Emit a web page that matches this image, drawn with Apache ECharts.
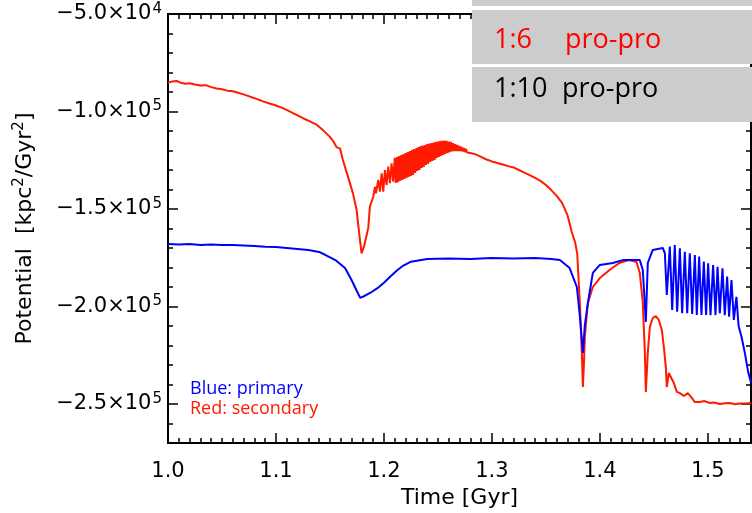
<!DOCTYPE html>
<html>
<head>
<meta charset="utf-8">
<script src="https://cdn.jsdelivr.net/npm/echarts@6/dist/echarts.min.js"></script>
<style>
  html, body { margin: 0; padding: 0; background: #fff; }
  #chart { width: 752px; height: 513px; }
</style>
</head>
<body>
<div id="chart"></div>
<script>
// Time in Gyr and potential in kpc^2/Gyr^2 for the two galaxy centres.
const blueTime = [
  1.000, 1.010, 1.020, 1.030, 1.040, 1.050, 1.060, 1.070, 1.080, 1.090,
  1.100, 1.110, 1.120, 1.130, 1.140, 1.146, 1.155, 1.164, 1.170, 1.174,
  1.178, 1.182, 1.188, 1.194, 1.200, 1.206, 1.212, 1.218, 1.225, 1.240, 1.260, 1.280, 1.300,
  1.320, 1.340, 1.355, 1.363, 1.372, 1.3787, 1.3815, 1.3843, 1.386, 1.3889,
  1.3935, 1.400, 1.412, 1.4213, 1.437, 1.4398, 1.4426, 1.4444, 1.449, 1.4583,
  1.4602, 1.462, 1.4648, 1.4670, 1.4694, 1.4716, 1.4741, 1.4762, 1.4787, 1.4809,
  1.4833, 1.4855, 1.4880, 1.4898, 1.4920, 1.4941, 1.4963, 1.4984, 1.5003, 1.5025,
  1.5049, 1.5071, 1.5090, 1.5111, 1.5136, 1.5157, 1.5179, 1.5197, 1.5219, 1.5241,
  1.5265, 1.5285, 1.5312, 1.5343, 1.5373, 1.540
];
const blueValues = [
  -168000, -168200, -168000, -168500, -168200, -168500, -168500, -168700, -169000, -169300,
  -169500, -170000, -170500, -171000, -172000, -173600, -176200, -180300, -186400, -191000,
  -195600, -194600, -192800, -190600, -187800, -184600, -181500, -179000, -177000, -175600, -175400, -175600, -175100,
  -175400, -175100, -175600, -176200, -180300, -190000, -205000, -223800, -210000, -198200,
  -182800, -178700, -177700, -176200, -176200, -181300, -207900, -177700, -171000, -170000,
  -172600, -194100, -169300, -201800, -168500, -202700, -170200, -203500, -171900, -203500,
  -172700, -203800, -173600, -204400, -174400, -204400, -177000, -204400, -177800, -204400,
  -178700, -204400, -179600, -203500, -180400, -204400, -184700, -205200, -186400, -206900,
  -195000, -210000, -215500, -223800, -233400, -239000
];

const redTime = [
  1.000, 1.004, 1.008, 1.012, 1.016, 1.020, 1.025, 1.030, 1.035, 1.040,
  1.045, 1.050, 1.055, 1.060, 1.065, 1.070, 1.076, 1.082, 1.088, 1.094,
  1.100, 1.107, 1.114, 1.120, 1.126, 1.132, 1.138, 1.144, 1.150, 1.1535,
  1.1562, 1.1593, 1.1620, 1.1667, 1.1713, 1.1747, 1.1771,
  1.1793, 1.1815, 1.1840, 1.1855, 1.1870, 1.1901, 1.1917, 1.1926, 1.1947, 1.1963,
  1.1979, 1.1994, 1.2009, 1.2025, 1.2040, 1.2056, 1.2071, 1.2086,
  1.210, 1.211, 1.212, 1.213, 1.214, 1.215, 1.216, 1.217, 1.218, 1.219,
  1.220, 1.221, 1.222, 1.223, 1.224, 1.225, 1.226, 1.227, 1.228, 1.229,
  1.230, 1.231, 1.232, 1.233, 1.234, 1.235, 1.236, 1.237, 1.238, 1.239,
  1.240, 1.241, 1.242, 1.243, 1.244, 1.245, 1.246, 1.247, 1.248, 1.249,
  1.250, 1.251, 1.252, 1.253, 1.254, 1.255, 1.256, 1.257, 1.258, 1.259,
  1.260, 1.261, 1.262, 1.263, 1.264, 1.265, 1.266, 1.267, 1.268, 1.269,
  1.270, 1.271, 1.272, 1.273, 1.274, 1.275, 1.276, 1.277,
  1.280, 1.285, 1.290, 1.295, 1.300, 1.305, 1.310, 1.315, 1.320, 1.325,
  1.330, 1.335, 1.340, 1.345, 1.350, 1.355, 1.360, 1.365, 1.370, 1.374,
  1.377, 1.379, 1.3815, 1.3833, 1.3843, 1.3852, 1.3861, 1.3889, 1.3935, 1.400,
  1.409, 1.418, 1.427, 1.434, 1.437, 1.4398, 1.4417, 1.4426, 1.4444, 1.4463,
  1.449, 1.4518, 1.4546, 1.4574, 1.4593, 1.4611, 1.462, 1.4639, 1.4657, 1.4685,
  1.4713, 1.4741, 1.4778, 1.4815, 1.4852, 1.488, 1.4926, 1.497, 1.5019, 1.506,
  1.5111, 1.516, 1.5204, 1.525, 1.5296, 1.535, 1.540
];
const redValues = [
  -85200, -84600, -84300, -85300, -85800, -85500, -86200, -86700, -86500, -87500,
  -88200, -88600, -89300, -89600, -90400, -91200, -92400, -93500, -94800, -95900,
  -96900, -98400, -100300, -102000, -103700, -105200, -106900, -109800, -113000, -115600,
  -118400, -118900, -124900, -133400, -142000, -150500, -162500,
  -172700, -169300, -163300, -159700, -148800, -143700, -138600, -142000, -135100, -141100,
  -131700, -141100, -130000, -137700, -128300, -136800, -126600, -136000,
  -123800, -136700, -123300, -136200, -122800, -135600, -122300, -135100, -121800, -134600,
  -121300, -134100, -120800, -133600, -120300, -133100, -119700, -132600, -119200, -131500,
  -118700, -130500, -118200, -130000, -117700, -129000, -117400, -128500, -117200, -127400,
  -116700, -126900, -116400, -125900, -116200, -125400, -115900, -124900, -115600, -123800,
  -115400, -123300, -115100, -122800, -115100, -122300, -114900, -121800, -115100, -121300,
  -115400, -120800, -115600, -120500, -116200, -120300, -116700, -120300, -117200, -120300,
  -117700, -120300, -118200, -120500, -118700, -120800, -119200, -121000,
  -121300, -122000, -123300, -124600, -125600, -126400, -127200, -128000, -128700, -130000,
  -131300, -132600, -134100, -135600, -137700, -140300, -143300, -146900, -153100, -161800,
  -166900, -172600, -198200, -223800, -241300, -230000, -215600, -198200, -190000, -185400,
  -181300, -177700, -176200, -177200, -182800, -198200, -223800, -243800, -223800, -210500,
  -205900, -204900, -206900, -212100, -220800, -231000, -241300, -234100, -234100, -239200,
  -243800, -244400, -245900, -244400, -246900, -249000, -249000, -248500, -249500, -249200,
  -250000, -249600, -249500, -250100, -249700, -249800, -249500
];

// Labelled tick positions on each axis.
const xTickValues = [1.0, 1.1, 1.2, 1.3, 1.4, 1.5];
const yTickValues = [-250000, -200000, -150000, -100000, -50000];

const X_MIN = 1.0, X_MAX = 1.54;
const Y_MIN = -270000, Y_MAX = -50000;
const FONT = 'DejaVu Sans';
const RED = '#ff1a00';
const BLUE = '#0000ff';

function pairs(xs, ys) {
  return xs.map((x, i) => [x, ys[i]]);
}

function sciLabel(v) {
  const e = Math.floor(Math.log10(Math.abs(v)) + 1e-9);
  const m = (v / Math.pow(10, e)).toFixed(1).replace('-', '\u2212');
  return '{m|' + m + '\u00d710}{s|' + e + '}';
}

const lineStyle = { color: '#000', width: 2 };
const tickStyle = { color: '#000', width: 1.5 };

function xAxisPair(position, withLabels) {
  const minor = {
    type: 'value', position: position, min: X_MIN, max: X_MAX, interval: 0.01,
    axisLine: { show: true, onZero: false, lineStyle: lineStyle },
    axisTick: { show: true, inside: true, length: 5, lineStyle: tickStyle },
    axisLabel: withLabels ? {
      show: true, customValues: xTickValues, margin: 18,
      formatter: v => v.toFixed(1),
      color: '#000', fontFamily: FONT, fontSize: 21
    } : { show: false },
    splitLine: { show: false }
  };
  if (withLabels) {
    minor.name = 'Time [Gyr]';
    minor.nameLocation = 'middle';
    minor.nameGap = 43;
    minor.nameTextStyle = { color: '#000', fontFamily: FONT, fontSize: 22 };
  }
  const major = {
    type: 'value', position: position, min: X_MIN, max: X_MAX,
    axisLine: { show: false, onZero: false },
    axisTick: { show: true, inside: true, length: 10, customValues: xTickValues, lineStyle: tickStyle },
    axisLabel: { show: false },
    splitLine: { show: false }
  };
  return [minor, major];
}

function yAxisPair(position, withLabels) {
  const minor = {
    type: 'value', position: position, min: Y_MIN, max: Y_MAX, interval: 10000,
    axisLine: { show: true, onZero: false, lineStyle: lineStyle },
    axisTick: { show: true, inside: true, length: 5, lineStyle: tickStyle },
    axisLabel: withLabels ? {
      show: true, customValues: yTickValues, margin: 6,
      formatter: sciLabel,
      rich: {
        m: { fontFamily: FONT, fontSize: 21, color: '#000' },
        s: { fontFamily: FONT, fontSize: 15, color: '#000', verticalAlign: 'top', padding: [0, 0, 10, 1] }
      }
    } : { show: false },
    splitLine: { show: false }
  };
  if (withLabels) {
    minor.name = '{t|Potential  [kpc}{s|2}{t|/Gyr}{s|2}{t|]}';
    minor.nameLocation = 'middle';
    minor.nameRotate = 90;
    minor.nameGap = 130;
    minor.nameTextStyle = {
      rich: {
        t: { fontFamily: FONT, fontSize: 22, color: '#000' },
        s: { fontFamily: FONT, fontSize: 15, color: '#000', padding: [0, 0, 11, 0] }
      }
    };
  }
  const major = {
    type: 'value', position: position, min: Y_MIN, max: Y_MAX,
    axisLine: { show: false, onZero: false },
    axisTick: { show: true, inside: true, length: 10, customValues: yTickValues, lineStyle: tickStyle },
    axisLabel: { show: false },
    splitLine: { show: false }
  };
  return [minor, major];
}

const chart = echarts.init(document.getElementById('chart'), null, { renderer: 'canvas' });

const boxColor = '#cccccc';
const option = {
  animation: false,
  backgroundColor: '#ffffff',
  grid: { left: 168, top: 14, width: 583, height: 429, containLabel: false, outerBoundsMode: 'none' },
  xAxis: [].concat(xAxisPair('bottom', true), xAxisPair('top', false)),
  yAxis: [].concat(yAxisPair('left', true), yAxisPair('right', false)),
  series: [
    {
      name: 'secondary', type: 'line', xAxisIndex: 0, yAxisIndex: 0,
      data: pairs(redTime, redValues), showSymbol: false, symbol: 'none',
      sampling: 'none', clip: true,
      lineStyle: { color: RED, width: 2 }
    },
    {
      name: 'primary', type: 'line', xAxisIndex: 0, yAxisIndex: 0,
      data: pairs(blueTime, blueValues), showSymbol: false, symbol: 'none',
      sampling: 'none', clip: true,
      lineStyle: { color: BLUE, width: 2 }
    }
  ],
  graphic: [
    { type: 'rect', z: 100, shape: { x: 472, y: 0, width: 280, height: 6 }, style: { fill: boxColor } },
    { type: 'rect', z: 100, shape: { x: 472, y: 10, width: 280, height: 54 }, style: { fill: boxColor } },
    { type: 'rect', z: 100, shape: { x: 472, y: 67, width: 280, height: 55 }, style: { fill: boxColor } },
    { type: 'text', z: 101, left: 494, top: 27, style: { text: '1:6', fill: '#ff0000', font: '27px "Open Sans"' } },
    { type: 'text', z: 101, left: 565, top: 27, style: { text: 'pro-pro', fill: '#ff0000', font: '27px "Open Sans"' } },
    { type: 'text', z: 101, left: 494, top: 76, style: { text: '1:10', fill: '#000000', font: '27px "Open Sans"' } },
    { type: 'text', z: 101, left: 562, top: 76, style: { text: 'pro-pro', fill: '#000000', font: '27px "Open Sans"' } },
    { type: 'text', z: 101, left: 190, top: 380, style: { text: 'Blue: primary', fill: BLUE, font: '18px "Open Sans"' } },
    { type: 'text', z: 101, left: 190, top: 400, style: { text: 'Red: secondary', fill: RED, font: '18px "Open Sans"' } }
  ]
};

chart.setOption(option);
</script>
</body>
</html>
